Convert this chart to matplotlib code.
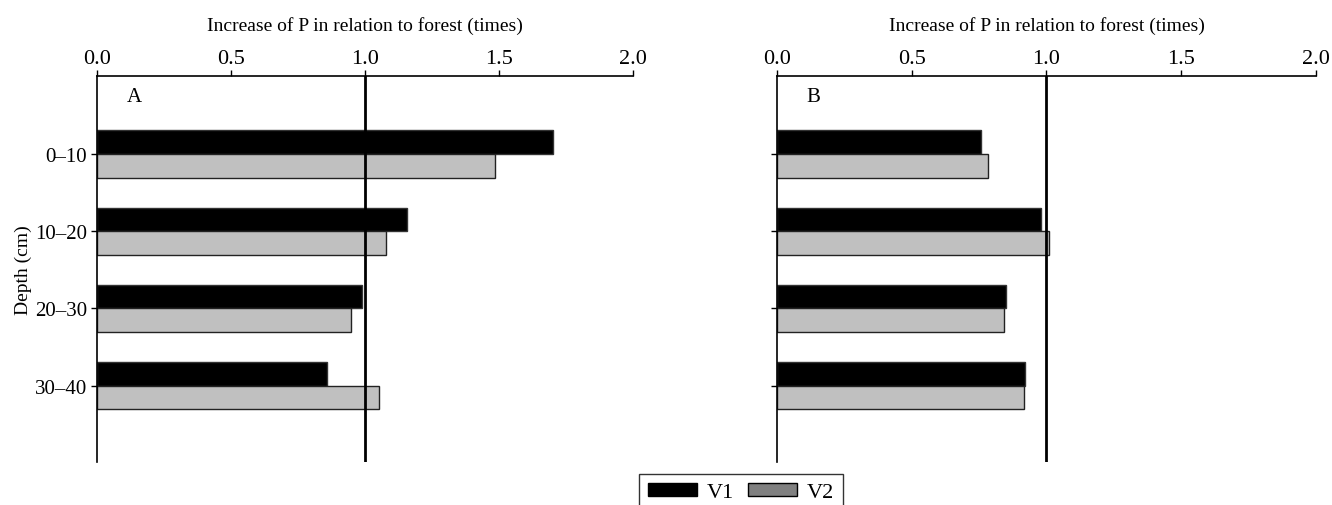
import numpy as np
import matplotlib.pyplot as plt
from matplotlib.patches import Patch

plt.rcParams['font.family'] = ['Liberation Serif', 'DejaVu Serif']

depths = ["0\u201310", "10\u201320", "20\u201330", "30\u201340"]
v1_a = [1.70, 1.157, 0.99, 0.86]
v2_a = [1.485, 1.08, 0.948, 1.052]
v1_b = [0.758, 0.981, 0.849, 0.921]
v2_b = [0.783, 1.009, 0.843, 0.918]
xticks = [0.0, 0.5, 1.0, 1.5, 2.0]

fig = plt.figure(figsize=(13.32, 5.06), dpi=100)
ax_a = fig.add_axes([0.0728, 0.085, 0.4024, 0.7628])
ax_b = fig.add_axes([0.5833, 0.085, 0.4047, 0.7628])

y = np.arange(len(depths))
h = 0.305


def draw(ax, v1, v2, letter, show_labels):
    ax.barh(y - h / 2, v1, height=h, color="black", edgecolor="#333333", linewidth=1.0)
    ax.barh(y + h / 2, v2, height=h, color="#c0c0c0", edgecolor="#222222", linewidth=1.0)
    ax.axvline(1.0, color="black", linewidth=2.0, zorder=3)
    ax.set_xlim(0, 2.0)
    ax.set_ylim(3.99, -1.01)
    ax.xaxis.tick_top()
    ax.xaxis.set_label_position("top")
    ax.set_xticks(xticks)
    ax.set_xticklabels(["%.1f" % t for t in xticks], fontsize=16)
    ax.set_xlabel("Increase of P in relation to forest (times)", fontsize=14, labelpad=13.5)
    ax.set_yticks(y)
    if show_labels:
        ax.set_yticklabels(depths, fontsize=15)
        ax.set_ylabel("Depth (cm)", fontsize=14, labelpad=2)
    else:
        ax.set_yticklabels([])
    ax.tick_params(axis="x", direction="out", length=4.3, width=1, pad=1.5)
    ax.tick_params(axis="y", direction="out", length=4, width=1, pad=3)
    ax.spines["right"].set_visible(False)
    ax.spines["bottom"].set_visible(False)
    for s in ("top", "left"):
        ax.spines[s].set_linewidth(1.2)
    ax.text(0.11, -0.745, letter, fontsize=15, va="center", ha="left")


draw(ax_a, v1_a, v2_a, "A", True)
draw(ax_b, v1_b, v2_b, "B", False)

handles = [Patch(facecolor="black", edgecolor="black", label="V1"),
           Patch(facecolor="#808080", edgecolor="black", label="V2")]
fig.legend(handles=handles, loc="upper center", bbox_to_anchor=(0.5563, 0.0613),
           borderaxespad=0, ncol=2, frameon=True, fancybox=False, edgecolor="black",
           fontsize=16, handlelength=2.2, handleheight=0.55, handletextpad=0.45,
           columnspacing=0.6, borderpad=0.4)

fig.savefig("out.png", dpi=100)
